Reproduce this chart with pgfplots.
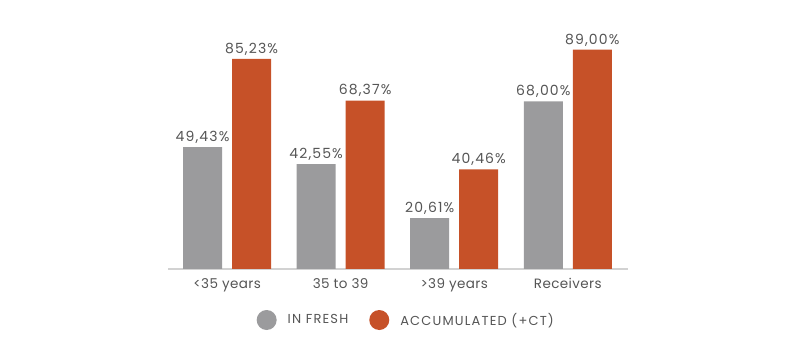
\documentclass[border=0pt]{standalone}
\usepackage{pgfplots}
\pgfplotsset{compat=1.18}
\usepackage{fontspec}
\setmainfont{Poppins}
\definecolor{cgray}{HTML}{9B9B9D}
\definecolor{corange}{HTML}{C65128}
\definecolor{ctext}{HTML}{555555}
\definecolor{caxis}{HTML}{D2D2D2}
\begin{document}
\begin{tikzpicture}[x=1pt,y=1pt]
\path[use as bounding box] (0,0) rectangle (800,350);
\begin{axis}[
  at={(168pt,81pt)}, anchor=south west,
  scale only axis, width=460pt, height=246.4pt,
  xmin=-0.52, xmax=3.53, ymin=0, ymax=100,
  ybar=10pt, bar width=39pt,
  axis x line*=bottom, hide y axis,
  axis line style={caxis, line width=2pt, -},
  xtick=data, xticklabels={<35 years,35 to 39,>39 years,Receivers},
  major tick length=0pt,
  xticklabel style={text=ctext, font=\fontsize{13.5}{15}\selectfont\addfontfeature{LetterSpace=3}, yshift=-6pt},
  /pgf/number format/assume math mode=true,
  nodes near coords={\pgfmathprintnumber[fixed,fixed zerofill,precision=2,use comma]{\pgfplotspointmeta}\%},
  nodes near coords style={text=ctext, font=\fontsize{14}{16}\selectfont\addfontfeature{LetterSpace=8}, yshift=0pt},
  legend columns=2,
  legend style={draw=none, fill=none, at={(0.518,-0.207)}, anchor=center,
    font=\fontsize{13}{15}\selectfont\addfontfeature{LetterSpace=9}, text=ctext,
    /tikz/every even column/.append style={column sep=19pt}},
]
\addplot[fill=cgray, draw=none, legend image code/.code={\fill[cgray] (0pt,0pt) circle (10pt);}]
  coordinates {(0,49.43) (1,42.55) (2,20.61) (3,68.00)};
\addlegendentry{\hspace{9pt}IN FRESH}
\addplot[fill=corange, draw=none, legend image code/.code={\fill[corange] (0pt,0pt) circle (10pt);}]
  coordinates {(0,85.23) (1,68.37) (2,40.46) (3,89.00)};
\addlegendentry{\hspace{9pt}ACCUMULATED (+CT)}
\end{axis}
\end{tikzpicture}
\end{document}
